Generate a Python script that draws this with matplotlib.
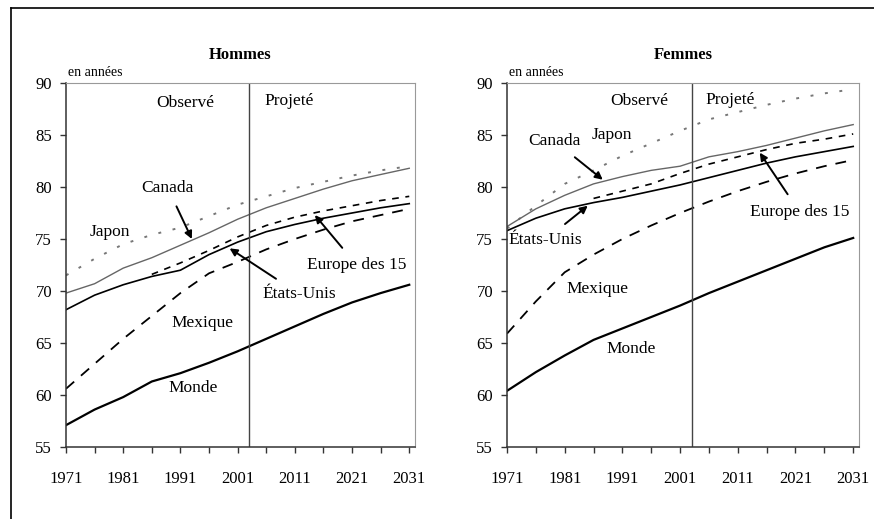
import numpy as np
import matplotlib
matplotlib.use("Agg")
import matplotlib.pyplot as plt
from matplotlib.lines import Line2D

plt.rcParams['font.family'] = ['Liberation Serif', 'DejaVu Serif']

# annees (pas de 5 ans)
annees = [1971, 1976, 1981, 1986, 1991, 1996, 2001, 2006, 2011, 2016, 2021, 2026, 2031]
annees_europe = [1986, 1991, 1996, 2001, 2006, 2011, 2016, 2021, 2026, 2031]
annee_coupure = 2003

# Hommes
h_monde = [57.1, 58.6, 59.8, 61.3, 62.1, 63.1, 64.2, 65.4, 66.6, 67.8, 68.9, 69.8, 70.6]
h_mexique = [60.6, 63.0, 65.4, 67.6, 69.8, 71.7, 72.8, 74.0, 75.0, 75.9, 76.7, 77.3, 77.9]
h_canada = [69.8, 70.7, 72.2, 73.2, 74.4, 75.6, 76.9, 78.0, 78.9, 79.8, 80.6, 81.2, 81.8]
h_usa = [68.2, 69.6, 70.6, 71.4, 72.0, 73.5, 74.7, 75.7, 76.4, 77.0, 77.5, 78.0, 78.4]
h_japon = [71.5, 73.1, 74.5, 75.4, 76.1, 77.2, 78.3, 79.1, 79.9, 80.5, 81.1, 81.6, 82.0]
h_europe = [71.6, 72.7, 73.9, 75.2, 76.3, 77.1, 77.7, 78.2, 78.7, 79.1]

# Femmes
f_monde = [60.4, 62.2, 63.8, 65.3, 66.4, 67.5, 68.6, 69.8, 70.9, 72.0, 73.1, 74.2, 75.1]
f_mexique = [65.9, 69.0, 71.8, 73.5, 75.0, 76.3, 77.5, 78.6, 79.6, 80.5, 81.3, 82.0, 82.6]
f_canada = [76.2, 77.9, 79.2, 80.3, 81.0, 81.6, 82.0, 82.9, 83.4, 84.0, 84.7, 85.4, 86.0]
f_usa = [75.8, 77.0, 77.9, 78.5, 79.0, 79.6, 80.2, 80.9, 81.6, 82.3, 82.9, 83.4, 83.9]
f_japon = [76.0, 78.2, 80.3, 81.6, 83.0, 84.2, 85.4, 86.5, 87.2, 87.9, 88.5, 89.0, 89.4]
f_europe = [78.9, 79.6, 80.3, 81.3, 82.2, 82.9, 83.6, 84.2, 84.6, 85.1]


def panel(ax, titre, monde, mexique, canada, usa, japon, europe, labels):
    ax.plot(annees, japon, color="#777777", lw=1.4, linestyle=(0, (1.5, 6)))
    ax.plot(annees, canada, color="#666666", lw=1.0)
    ax.plot(annees, usa, color="black", lw=1.2)
    ax.plot(annees_europe, europe, color="black", lw=1.2, linestyle=(0, (4, 4)))
    ax.plot(annees, mexique, color="black", lw=1.3, linestyle=(0, (6, 5)))
    ax.plot(annees, monde, color="black", lw=1.6)
    ax.axvline(annee_coupure, color="#444444", lw=1.0)

    ax.set_xlim(1971, 2032)
    ax.set_ylim(55, 90)
    ax.set_yticks(range(55, 91, 5))
    ax.set_xticks(range(1971, 2032, 10))
    ax.set_xticks(range(1976, 2032, 10), minor=True)
    ax.tick_params(axis="both", labelsize=12, length=4, width=1, direction="out", color="#333333")
    ax.tick_params(axis="x", which="minor", length=4, width=1, color="#333333")
    ax.tick_params(axis="x", pad=13)
    ax.tick_params(axis="y", pad=6)
    for s in ["top", "right"]:
        ax.spines[s].set_color("#999999")
    for s in ["left", "bottom"]:
        ax.spines[s].set_color("#333333")
        ax.spines[s].set_linewidth(1.1)

    ax.set_title(titre, fontsize=12, fontweight="bold", pad=17)
    ax.text(0.005, 1.01, "en années", transform=ax.transAxes, fontsize=10, ha="left", va="bottom")

    for txt, xy, pointe in labels:
        if pointe is None:
            ax.text(xy[0], xy[1], txt, fontsize=12.5, ha="center", va="center")
        else:
            ax.annotate(txt, xy=pointe, xytext=xy, fontsize=12.5, ha="center", va="center",
                        arrowprops=dict(arrowstyle="-|>", color="black", lw=1.4,
                                        shrinkA=6, shrinkB=0, mutation_scale=11))


fig = plt.figure(figsize=(8.74, 5.19), dpi=100)
ax1 = fig.add_axes([0.0755, 0.1387, 0.3993, 0.7014])
ax2 = fig.add_axes([0.5801, 0.1387, 0.4027, 0.7014])

panel(ax1, "Hommes", h_monde, h_mexique, h_canada, h_usa, h_japon, h_europe, [
    ("Observé", (1991.8, 88.1), None),
    ("Projeté", (2010.0, 88.3), None),
    ("Canada", (1988.8, 79.9), (1993.0, 75.0)),
    ("Japon", (1978.7, 75.7), None),
    ("Mexique", (1994.9, 66.9), None),
    ("Monde", (1993.2, 60.7), None),
    ("États-Unis", (2011.8, 69.7), (1999.6, 74.1)),
    ("Europe des 15", (2021.8, 72.5), (2014.5, 77.3)),
])

panel(ax2, "Femmes", f_monde, f_mexique, f_canada, f_usa, f_japon, f_europe, [
    ("Observé", (1994.0, 88.3), None),
    ("Projeté", (2009.6, 88.4), None),
    ("Canada", (1979.3, 84.4), (1987.6, 80.7)),
    ("Japon", (1989.2, 85.0), None),
    ("États-Unis", (1977.6, 74.9), (1985.0, 78.2)),
    ("Europe des 15", (2021.7, 77.6), (2014.8, 83.3)),
    ("Mexique", (1986.6, 70.2), None),
    ("Monde", (1992.6, 64.4), None),
])

# cadre
fig.add_artist(Line2D([11 / 874, 11 / 874], [0, 1 - 8 / 519], transform=fig.transFigure, color="black", lw=1.2))
fig.add_artist(Line2D([11 / 874, 1], [1 - 8 / 519, 1 - 8 / 519], transform=fig.transFigure, color="black", lw=1.2))

fig.savefig("out.png", dpi=100)
